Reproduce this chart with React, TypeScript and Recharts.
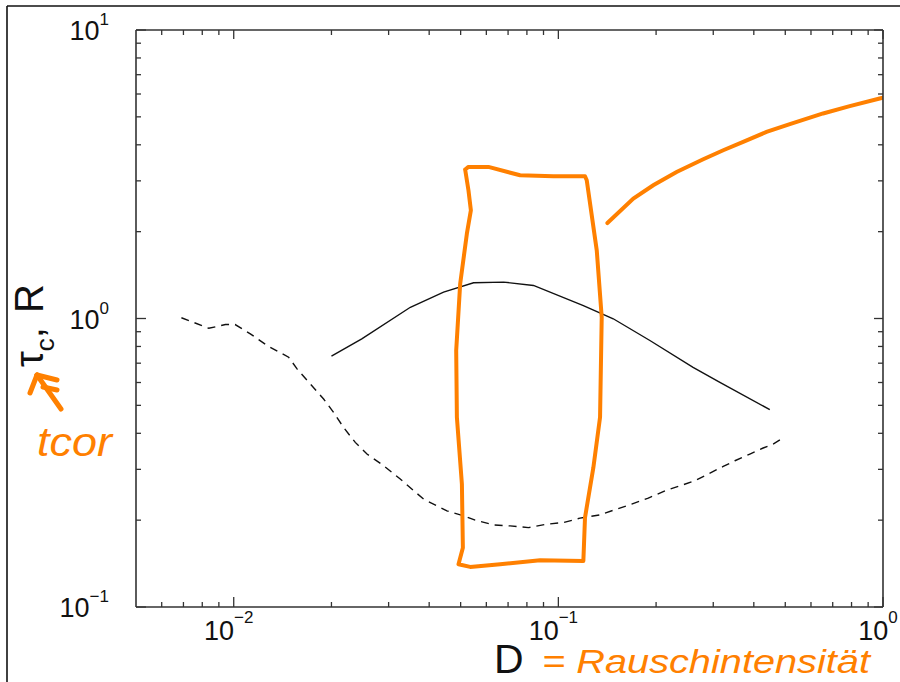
import { LineChart, Line, XAxis, YAxis } from "recharts";

// solid curve: R(D)
const solidD = [0.02, 0.0248, 0.035, 0.0443, 0.0548, 0.0678, 0.0838, 0.1194, 0.1476, 0.1914, 0.26, 0.3145, 0.448];
const solidR = [0.74, 0.85, 1.094, 1.234, 1.33, 1.337, 1.302, 1.109, 0.998, 0.839, 0.677, 0.601, 0.483];

// dashed curve: tau_c(D)
const dashedD = [
  0.0069, 0.00838, 0.00943, 0.0101, 0.01125, 0.01267, 0.01476, 0.01567, 0.01722, 0.01892,
  0.0203, 0.0218, 0.02368, 0.02573, 0.02894, 0.03258, 0.03843, 0.04536, 0.05102, 0.05543,
  0.0631, 0.071, 0.0809, 0.0921, 0.1036, 0.1166, 0.1344, 0.1512, 0.1682, 0.1892,
  0.213, 0.2369, 0.2635, 0.2862, 0.322, 0.3498, 0.3889, 0.4274, 0.4587, 0.4984,
];
const dashedTau = [
  1.006, 0.925, 0.953, 0.953, 0.885, 0.806, 0.734, 0.669, 0.593, 0.526,
  0.473, 0.419, 0.372, 0.339, 0.309, 0.2776, 0.2366, 0.2154, 0.207, 0.2,
  0.1926, 0.191, 0.1885, 0.1937, 0.1962, 0.2032, 0.2087, 0.2184, 0.2273, 0.2384,
  0.2528, 0.263, 0.274, 0.2873, 0.307, 0.3213, 0.339, 0.3557, 0.367, 0.389,
];

// orange hand-drawn curve (top right)
const handCurveD = [0.1416, 0.1702, 0.196, 0.2313, 0.2794, 0.322, 0.3709, 0.4377, 0.5164, 0.6538, 0.7899, 0.9767, 1.0];
const handCurveV = [2.142, 2.604, 2.896, 3.221, 3.565, 3.831, 4.094, 4.434, 4.717, 5.137, 5.446, 5.79, 5.83];

// orange hand-drawn box around the resonance
const handBoxD = [
  0.05163, 0.05285, 0.0609, 0.07623, 0.09652, 0.1208, 0.1223, 0.1313, 0.136, 0.1344, 0.1282, 0.1208, 0.1194,
  0.08784, 0.06617, 0.05349, 0.04925, 0.0508, 0.05045, 0.04869, 0.04845, 0.04984, 0.05226, 0.05376, 0.05285, 0.05163,
];
const handBoxV = [
  3.284, 3.353, 3.353, 3.137, 3.112, 3.112, 3.015, 1.722, 1.01, 0.4543, 0.3046, 0.2042, 0.1444,
  0.1453, 0.1407, 0.1377, 0.1407, 0.1606, 0.2667, 0.4543, 0.774, 1.32, 1.968, 2.371, 2.783, 3.284,
];

const xTicks = [
  0.006, 0.007, 0.008, 0.009, 0.01, 0.02, 0.03, 0.04, 0.05, 0.06, 0.07, 0.08, 0.09,
  0.1, 0.2, 0.3, 0.4, 0.5, 0.6, 0.7, 0.8, 0.9, 1,
];
const yTicks = [
  0.1, 0.2, 0.3, 0.4, 0.5, 0.6, 0.7, 0.8, 0.9, 1, 2, 3, 4, 5, 6, 7, 8, 9, 10,
];

const zip = (xs: number[], ys: number[]) => xs.map((x, i) => ({ x, y: ys[i] }));

const FONT = "'Liberation Sans', Arial, Helvetica, sans-serif";
const AXIS = "#333";
const ORANGE = "#ff8000";

const isDecade = (v: number) => Math.abs(Math.log10(v) - Math.round(Math.log10(v))) < 1e-6;
const expText = (v: number) => {
  const e = Math.round(Math.log10(v));
  return e < 0 ? `\u2212${-e}` : `${e}`;
};

const BottomTick = (props: any) => {
  const { x, y, payload } = props;
  const major = isDecade(payload.value);
  return (
    <g>
      <line x1={x} x2={x} y1={y} y2={y - (major ? 10 : 5)} stroke={AXIS} strokeWidth={1.3} />
      {major && (
        <text x={x - 5} y={y + 33} textAnchor="middle" fontFamily={FONT} fontSize={27} fill="#111">
          10
          <tspan dy={-17} fontSize={17}>{expText(payload.value)}</tspan>
        </text>
      )}
    </g>
  );
};

const TopTick = (props: any) => {
  const { x, y, payload } = props;
  const major = isDecade(payload.value);
  return <line x1={x} x2={x} y1={y} y2={y + (major ? 9 : 5)} stroke={AXIS} strokeWidth={1.3} />;
};

const LeftTick = (props: any) => {
  const { x, y, payload } = props;
  const major = isDecade(payload.value);
  return (
    <g>
      <line x1={x} x2={x + (major ? 10 : 5)} y1={y} y2={y} stroke={AXIS} strokeWidth={1.3} />
      {major && (
        <text x={x - 27} y={y + 10} textAnchor="end" fontFamily={FONT} fontSize={27} fill="#111">
          10
          <tspan dy={-15} fontSize={17}>{expText(payload.value)}</tspan>
        </text>
      )}
    </g>
  );
};

const RightTick = (props: any) => {
  const { x, y, payload } = props;
  const major = isDecade(payload.value);
  return <line x1={x} x2={x - (major ? 9 : 5)} y1={y} y2={y} stroke={AXIS} strokeWidth={1.3} />;
};

export default function App() {
  return (
    <div style={{ position: "absolute", left: 0, top: 0, width: 900, height: 682, overflow: "hidden", background: "#fff" }}>
      <LineChart width={900} height={682} margin={{ top: 0, right: 0, bottom: 0, left: 0 }}>
        <XAxis
          dataKey="x"
          type="number"
          scale="log"
          domain={[0.005, 1]}
          allowDataOverflow
          ticks={xTicks}
          interval={0}
          height={75}
          tickSize={0}
          tickMargin={0}
          tickLine={false}
          axisLine={{ stroke: AXIS, strokeWidth: 1.6 }}
          tick={BottomTick}
        />
        <XAxis
          xAxisId="top"
          orientation="top"
          dataKey="x"
          type="number"
          scale="log"
          domain={[0.005, 1]}
          allowDataOverflow
          ticks={xTicks}
          interval={0}
          height={30}
          tickSize={0}
          tickMargin={0}
          tickLine={false}
          axisLine={{ stroke: AXIS, strokeWidth: 1.6 }}
          tick={TopTick}
        />
        <YAxis
          type="number"
          scale="log"
          domain={[0.1, 10]}
          allowDataOverflow
          ticks={yTicks}
          interval={0}
          width={136}
          tickSize={0}
          tickMargin={0}
          tickLine={false}
          axisLine={{ stroke: AXIS, strokeWidth: 1.6 }}
          tick={LeftTick}
        />
        <YAxis
          yAxisId="right"
          orientation="right"
          type="number"
          scale="log"
          domain={[0.1, 10]}
          allowDataOverflow
          ticks={yTicks}
          interval={0}
          width={17}
          tickSize={0}
          tickMargin={0}
          tickLine={false}
          axisLine={{ stroke: AXIS, strokeWidth: 1.6 }}
          tick={RightTick}
        />
        <Line data={zip(dashedD, dashedTau)} dataKey="y" type="linear" stroke="#111" strokeWidth={1.4} strokeDasharray="8 6" dot={false} activeDot={false} isAnimationActive={false} />
        <Line data={zip(solidD, solidR)} dataKey="y" type="linear" stroke="#111" strokeWidth={1.4} dot={false} activeDot={false} isAnimationActive={false} />
        <Line data={zip(handBoxD, handBoxV)} dataKey="y" type="linear" stroke={ORANGE} strokeWidth={4} strokeLinejoin="round" strokeLinecap="round" dot={false} activeDot={false} isAnimationActive={false} />
        <Line data={zip(handCurveD, handCurveV)} dataKey="y" type="linear" stroke={ORANGE} strokeWidth={4} strokeLinecap="round" dot={false} activeDot={false} isAnimationActive={false} />
      </LineChart>

      <svg width={900} height={682} style={{ position: "absolute", left: 0, top: 0, pointerEvents: "none" }}>
        {/* outer frame (left and top edges visible) */}
        <line x1={7} y1={6} x2={900} y2={6} stroke="#111" strokeWidth={1.6} />
        <line x1={7} y1={6} x2={7} y2={682} stroke="#111" strokeWidth={1.6} />

        {/* y axis title */}
        <text transform="translate(43,367) rotate(-90)" fontFamily={FONT} fontSize={40} fill="#111">
          τ
          <tspan dy={11} fontSize={26}>c</tspan>
          <tspan dy={-11} fontSize={40}>,</tspan>
          <tspan dx={14} fontSize={40}>R</tspan>
        </text>

        {/* x axis title */}
        <text x={494} y={673} fontFamily={FONT} fontSize={41} fill="#111">D</text>

        {/* handwritten annotations */}
        <g stroke={ORANGE} strokeWidth={5} strokeLinecap="round" fill="none">
          <line x1={61} y1={409} x2={37} y2={375} />
          <line x1={37} y1={375} x2={30} y2={393} />
          <line x1={37} y1={375} x2={57} y2={380} />
          <line x1={43} y1={387} x2={57} y2={390} />
        </g>
        <text x={37} y={456} fontFamily={FONT} fontStyle="italic" fontSize={40} fill={ORANGE} textLength={75} lengthAdjust="spacingAndGlyphs">
          tcor
        </text>
        <text x={542} y={673} fontFamily={FONT} fontStyle="italic" fontSize={34} fill={ORANGE} textLength={328} lengthAdjust="spacingAndGlyphs">
          = Rauschintensität
        </text>
      </svg>
    </div>
  );
}
